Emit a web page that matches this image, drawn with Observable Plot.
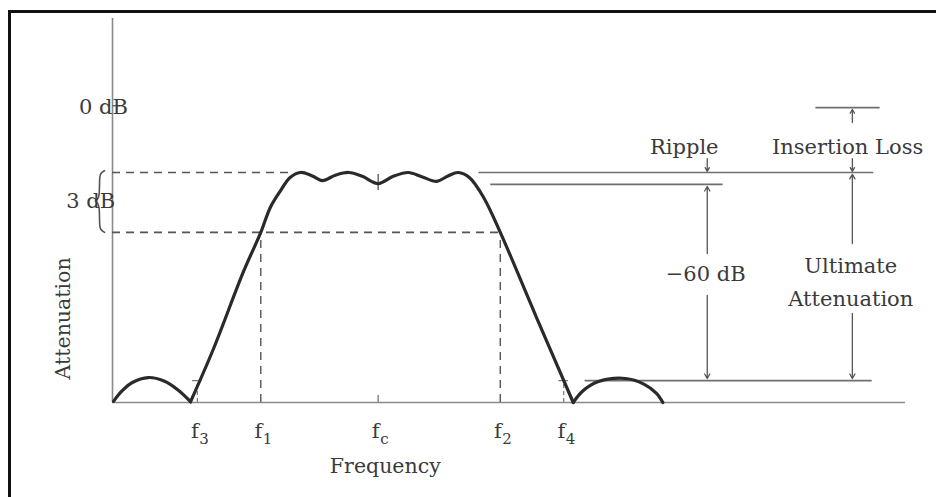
<!DOCTYPE html>
<html>
<head>
<meta charset="utf-8">
<script src="https://cdn.jsdelivr.net/npm/d3@7"></script>
<script src="https://cdn.jsdelivr.net/npm/@observablehq/plot@0.6"></script>
<style>
  html, body { margin: 0; padding: 0; background: #fff; }
  #wrap { position: relative; width: 936px; height: 497px; overflow: hidden; }
  #frame { position: absolute; left: 8px; top: 10px; width: 940px; height: 500px;
           border-top: 3px solid #111; border-left: 3px solid #111; pointer-events: none; }
</style>
</head>
<body>
<div id="wrap"><div id="chart"></div><div id="frame"></div></div>
<script>
// ---- Data (schematic units: frequency 0..100, level 0..100) ----
const freqLabels = ["3", "1", "c", "2", "4"];
const freqValues = [10.7, 18.7, 33.5, 48.9, 56.9];

// filter response curve
const leftLobe = [[0.13,0.3],[1.2,3.0],[2.5,5.2],[4.5,6.5],[6.5,5.6],[8.3,3.2],[9.84,0.2]];
const mainLobe = [[9.84,0.2],[12.7,13.8],[16.5,34.0],[18.7,44.3],[19.9,50.8],[21.2,55.2],[22.4,58.6],
  [23.7,59.9],[25.2,59.0],[26.5,57.8],[28.1,59.2],[29.8,59.9],[31.5,58.9],[33.5,57.0],[35.4,58.9],
  [37.3,59.9],[39.0,58.8],[40.9,57.6],[42.3,59.0],[43.6,59.9],[45.0,58.6],[46.8,53.4],[48.9,44.3],
  [53.5,22.0],[58.1,0]];
const rightLobe = [[58.1,0],[59.3,3.0],[61.2,5.4],[64.7,6.25],[67.0,4.8],[68.6,2.4],[69.4,0]];

// levels
const zeroDb = 77.3;
const passTop = 59.9;     // upper 3 dB dashed line
const pass3dB = 44.3;     // lower 3 dB dashed line
const rippleLow = 56.8;
const stopLevel = 5.7;
const refLevel = 76.8;    // insertion-loss reference line

// horizontal guide lines [x1, x2, level]
const solidGuides = [[46.2, 96.0, passTop],[47.7, 77.0, rippleLow],[59.6, 95.8, stopLevel],[88.7, 96.8, refLevel]];
const dashedGuides = [[0, 22.4, passTop],[0, 48.9, pass3dB]];
// dimension arrows [x, fromLevel, toLevel]
const arrows = [[75.0,63.5,60.2],[75.0,38.8,56.25],[75.0,27.9,6.25],
                [93.3,72.9,76.3],[93.3,63.5,60.2],[93.3,41.4,59.4],[93.3,23.2,6.25]];
// brace for 3 dB
const brace = [[-1.0,60.4],[-1.55,59.7],[-1.64,58.3],[-1.64,54.0],[-1.85,52.8],[-2.3,52.4],
               [-1.85,52.0],[-1.64,50.8],[-1.64,46.4],[-1.55,45.0],[-1.0,44.3]];
// annotation texts [label, x, level, anchor]
const notes = [
  ["0 dB", -1.15, 76.9, "end"],
  ["3 dB", -2.75, 52.4, "end"],
  ["Ripple", 72.1, 66.5, "middle"],
  ["Insertion Loss", 92.7, 66.5, "middle"],
  ["\u221260 dB", 74.8, 33.5, "middle"],
  ["Ultimate", 93.1, 35.5, "middle"],
  ["Attenuation", 93.1, 26.8, "middle"]
];
const axisTitles = [["Frequency", 34.4, -16.6, 0, "normal"],["Attenuation", -6.2, 21.9, -90, "bold"]];

const freqs = freqLabels.map((s, i) => ({sub: s, f: freqValues[i]}));
const font = "DejaVu Serif";
const ink = "#3a3a3a";
const lineCol = "#6f6f6f";

const chart = Plot.plot({
  width: 936, height: 497,
  marginLeft: 112, marginRight: 31, marginTop: 18, marginBottom: 95,
  x: {domain: [0, 100], axis: null},
  y: {domain: [0, 100], axis: null},
  style: {background: "transparent"},
  marks: [
    // axes
    Plot.ruleX([0], {y1: 0, y2: 100, stroke: "#8a8a8a", strokeWidth: 1.6}),
    Plot.ruleY([0], {x1: 0, x2: 100, stroke: "#8a8a8a", strokeWidth: 1.6}),
    Plot.ruleY([zeroDb], {x1: 0, x2: 1.0, stroke: "#666", strokeWidth: 1.4}),
    // dashed 3 dB lines and frequency drops
    Plot.ruleY(dashedGuides, {x1: d => d[0], x2: d => d[1], y: d => d[2], stroke: "#555", strokeWidth: 1.6, strokeDasharray: "8,6"}),
    Plot.ruleX([freqValues[1], freqValues[3]], {y1: 0, y2: pass3dB, stroke: "#555", strokeWidth: 1.4, strokeDasharray: "8,6"}),
    Plot.ruleX([freqValues[0], freqValues[4]], {y1: 0, y2: stopLevel, stroke: "#777", strokeWidth: 1.2, strokeDasharray: "4,3"}),
    Plot.ruleY([[freqValues[0], stopLevel],[freqValues[4], stopLevel]], {x1: d => d[0] - 0.6, x2: d => d[0] + 0.6, y: d => d[1], stroke: "#777", strokeWidth: 1.2}),
    Plot.ruleX([freqValues[2]], {y1: 0, y2: 1.8, stroke: "#777", strokeWidth: 1.3}),
    Plot.ruleX([freqValues[2]], {y1: 55.2, y2: 59.4, stroke: "#555", strokeWidth: 1.3}),
    // solid guide lines
    Plot.ruleY(solidGuides, {x1: d => d[0], x2: d => d[1], y: d => d[2], stroke: lineCol, strokeWidth: 1.6}),
    // arrows
    Plot.arrow(arrows, {x1: d => d[0], x2: d => d[0], y1: d => d[1], y2: d => d[2], stroke: "#555", strokeWidth: 1.3, headLength: 6}),
    // brace
    Plot.line(brace, {x: d => d[0], y: d => d[1], curve: "basis", stroke: "#555", strokeWidth: 1.6}),
    // response curve
    Plot.line(leftLobe, {x: d => d[0], y: d => d[1], curve: "catmull-rom", stroke: "#2a2a2a", strokeWidth: 3.2}),
    Plot.line(mainLobe, {x: d => d[0], y: d => d[1], curve: "catmull-rom", stroke: "#2a2a2a", strokeWidth: 3.2}),
    Plot.line(rightLobe, {x: d => d[0], y: d => d[1], curve: "catmull-rom", stroke: "#2a2a2a", strokeWidth: 3.2}),
    // frequency labels
    Plot.text(freqs, {x: "f", y: -7.6, text: () => "f", dx: 1.5, textAnchor: "end", fontFamily: font, fontSize: 21, fill: ink}),
    Plot.text(freqs, {x: "f", y: -9.6, text: "sub", dx: 2, textAnchor: "start", fontFamily: font, fontSize: 15, fill: ink}),
    // annotations
    Plot.text(notes, {x: d => d[1], y: d => d[2], text: d => d[0], textAnchor: d => d[3], fontFamily: font, fontSize: 21, fill: ink}),
    Plot.text(axisTitles, {x: d => d[1], y: d => d[2], text: d => d[0], rotate: d => d[3], fontWeight: d => d[4], fontFamily: font, fontSize: 20.5, fill: ink})
  ]
});
document.getElementById("chart").appendChild(chart);
</script>
</body>
</html>
